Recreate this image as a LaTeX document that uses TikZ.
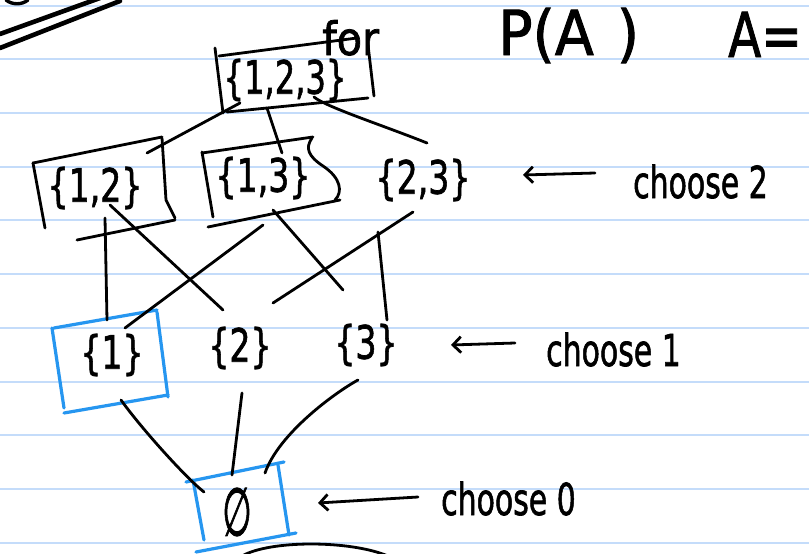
\documentclass[tikz,border=0pt]{standalone}
\usepackage{fontspec}
\setmainfont{DejaVu Sans}
\usepackage{graphicx}
\usetikzlibrary{calc,arrows.meta}
\definecolor{ruleblue}{RGB}{196,220,250}
\definecolor{penblue}{RGB}{38,150,240}
% #1 size, #2 horizontal squeeze, #3 text
\newcommand{\handtext}[3]{{\fontsize{#1}{#1}\selectfont\addfontfeature{FakeBold=1.6}\scalebox{#2}[1]{#3}}}

\begin{document}
\begin{tikzpicture}[x=1pt,y=-1pt,
  ink/.style={line width=2.8pt, line cap=round, line join=round, black},
  bluepen/.style={line width=3.2pt, line cap=round, line join=round, penblue},
  ruled/.style={line width=1.8pt, ruleblue},
  setl/.style={inner sep=0pt},
  lbl/.style={inner sep=0pt, anchor=base west},
  arr/.style={ink, -{Straight Barb[length=8pt,width=16pt]}},
]
\useasboundingbox (0,0) rectangle (809,554);
\fill[white] (0,0) rectangle (809,554);

% ruled paper
\foreach \yy in {6,59,113,167,220,274,328,382,435,489,543}
  \draw[ruled] (0,\yy) -- (809,\yy);

% strokes in the top left corner
\draw[ink, line width=4.6pt] (0,34) -- (100,-2);
\draw[ink, line width=4.6pt] (0,48) -- (120,1);
\draw[ink, line width=3.4pt] (6,0) .. controls (12,5) and (22,5) .. (28,0);

% heading
\node[lbl] (for) at (322,55) {\handtext{46}{0.9}{for}};
\node[lbl] (pa) at (498,55) {\handtext{62}{0.92}{P(A\hspace{25pt})}};
\node[lbl] (aeq) at (728,57) {\handtext{62}{0.78}{A=}};

% the subsets
\node[setl] (s123) at (285,80) {\handtext{46}{0.7}{\{1,2,3\}}};
\node[setl] (s12) at (95,188) {\handtext{46}{0.72}{\{1,2\}}};
\node[setl] (s13) at (263,178) {\handtext{46}{0.72}{\{1,3\}}};
\node[setl] (s23) at (423,180) {\handtext{46}{0.72}{\{2,3\}}};
\node[setl] (s1) at (112,355) {\handtext{46}{0.72}{\{1\}}};
\node[setl] (s2) at (240,348) {\handtext{46}{0.72}{\{2\}}};
\node[setl] (s3) at (366,345) {\handtext{46}{0.72}{\{3\}}};
\node[setl] (emp) at (237,512) {\fontsize{42}{42}\selectfont\addfontfeature{FakeBold=1.6}\scalebox{0.8}[1.6]{∅}};

% hand-drawn boxes
\begin{scope}[shift={(s123)}]
  \draw[ink] (-66,-24) -- (72,-42);
  \draw[ink] (-70,-32) -- (-62,33);
  \draw[ink] (83,-35) -- (89,16);
  \draw[ink] (-58,32) -- (83,18);
\end{scope}
\begin{scope}[shift={(s12)}]
  \draw[ink] (-62,-25) -- (67,-51);
  \draw[ink] (-62,-25) -- (-50,40);
  \draw[ink] (67,-50) -- (71,12) -- (80,30);
  \draw[ink] (80,32) -- (-18,52);
\end{scope}
\begin{scope}[shift={(s13)}]
  \draw[ink] (-61,-25) -- (50,-41);
  \draw[ink] (-61,-26) -- (-50,39);
  \draw[ink] (49,-40) .. controls (42,-30) and (45,-22) .. (60,-12)
                      .. controls (78,0) and (80,14) .. (72,22);
  \draw[ink] (77,22) -- (-55,49);
\end{scope}
\begin{scope}[shift={(s1)}]
  \draw[bluepen] (-58,-27) -- (45,-45);
  \draw[bluepen] (-60,-27) -- (-48,53);
  \draw[bluepen] (45,-43) -- (56,42);
  \draw[bluepen] (-48,58) -- (56,40);
\end{scope}
\begin{scope}[shift={(emp)}]
  \draw[bluepen] (-51,-30) -- (47,-50);
  \draw[bluepen] (-44,-32) -- (-33,28);
  \draw[bluepen] (41,-47) -- (52,23);
  \draw[bluepen] (-41,40) -- (59,21);
\end{scope}

% inclusion lines
\draw[ink] ($(s123)+(-45,23)$) -- ($(s12)+(52,-35)$);
\draw[ink] ($(s123)+(-18,28)$) -- ($(s13)+(19,-25)$);
\draw[ink] ($(s123)+(29,17)$) .. controls +(12,10) and +(-45,-18) .. ($(s23)+(4,-37)$);
\draw[ink] ($(s12)+(10,30)$) -- ($(s1)+(-5,-35)$);
\draw[ink] ($(s12)+(15,17)$) -- ($(s2)+(-17,-38)$);
\draw[ink] ($(s13)+(0,47)$) -- ($(s1)+(13,-27)$);
\draw[ink] ($(s13)+(10,32)$) -- ($(s3)+(-23,-55)$);
\draw[ink] ($(s23)+(-10,32)$) -- ($(s2)+(33,-45)$);
\draw[ink] ($(s23)+(-45,52)$) -- ($(s3)+(21,-25)$);
\draw[ink] ($(s1)+(9,45)$) .. controls +(20,28) and +(-18,-14) .. ($(emp)+(-33,-20)$);
\draw[ink] ($(s2)+(2,45)$) -- ($(emp)+(-5,-37)$);
\draw[ink] ($(s3)+(-8,35)$) .. controls +(-22,12) and +(14,-40) .. ($(emp)+(28,-39)$);

% level labels
\node[lbl] (c2) at (633,198) {\handtext{44}{0.68}{choose 2}};
\node[lbl] (c1) at (546,366) {\handtext{44}{0.68}{choose 1}};
\node[lbl] (c0) at (441,515) {\handtext{44}{0.68}{choose 0}};
\coordinate (t2) at (523,175);
\coordinate (t1) at (451,345);
\coordinate (t0) at (318,503);
\draw[arr] ($(c2.base west)+(-38,-25)$) -- (t2);
\draw[arr] ($(c1.base west)+(-31,-23)$) -- (t1);
\draw[arr] ($(c0.base west)+(-23,-18)$) -- (t0);

% curve running off the bottom edge
\draw[ink] (242,556) .. controls (270,540) and (350,540) .. (388,556);
\end{tikzpicture}
\end{document}
